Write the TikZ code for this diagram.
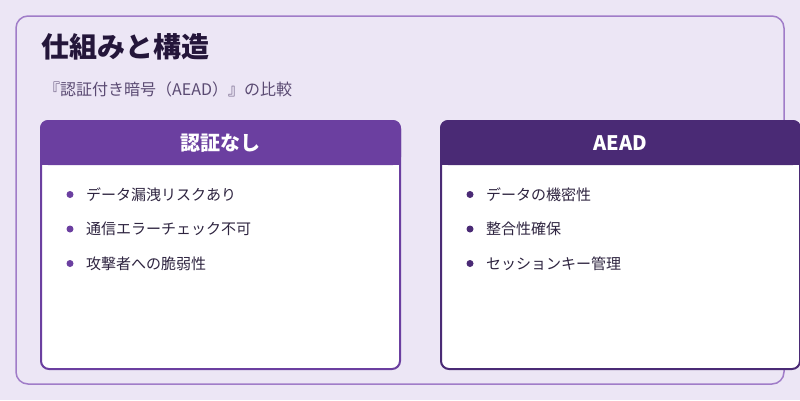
\documentclass[tikz,border=0pt]{standalone}
\usepackage{fontspec}
\setmainfont{Noto Sans CJK JP}
\definecolor{bg}{HTML}{ECE6F5}
\definecolor{frame}{HTML}{A07CC8}
\definecolor{hl}{HTML}{6B3FA0}
\definecolor{hr}{HTML}{4A2A75}
\definecolor{ttl}{HTML}{24163A}
\definecolor{sub}{HTML}{5A4A72}
\definecolor{txt}{HTML}{2E2440}
\tikzset{
 card/.style={draw=#1,line width=2pt,fill=white,rounded corners=8pt},
 item/.style={anchor=west,font=\fontsize{15}{18}\selectfont,text=txt,inner sep=0},
 dot/.style={circle,fill=#1,minimum size=7pt,inner sep=0},
 head/.style={text=white,font=\fontsize{20}{24}\selectfont\bfseries}
}
\begin{document}
\begin{tikzpicture}[x=1pt,y=-1pt]
\fill[bg] (0,0) rectangle (800,400);
\useasboundingbox (0,0) rectangle (800,400);
\draw[frame,line width=1.5pt,rounded corners=12pt] (16,16) rectangle (784,384);
\node[anchor=west,inner sep=0,text=ttl,font=\fontsize{28}{32}\selectfont\bfseries] (title) at (41,47) {仕組みと構造};
\node[anchor=west,inner sep=0,text=sub,font=\fontsize{16}{20}\selectfont] (subtitle) at (44,89) {『認証付き暗号（AEAD）』の比較};
% left card
\draw[card=hl] (41,121) rectangle (400,369);
\fill[hl,rounded corners=8pt] (40,120) rectangle (401,165);
\fill[hl] (40,150) rectangle (401,165);
\node[head] (lh) at (220.5,143) {認証なし};
% right card
\draw[card=hr] (441,121) rectangle (800,369);
\fill[hr,rounded corners=8pt] (440,120) rectangle (801,165);
\fill[hr] (440,150) rectangle (801,165);
\node[head] (rh) at (620.5,143) {AEAD};
\foreach \t [count=\i] in {データ漏洩リスクあり,通信エラーチェック不可,攻撃者への脆弱性}{
  \node[dot=hl] (ld\i) at (70,{160+\i*34.5}) {};
  \node[item] (lt\i) at (86,{160+\i*34.5}) {\t};
}
\foreach \t [count=\i] in {データの機密性,整合性確保,セッションキー管理}{
  \node[dot=hr] (rd\i) at (470,{160+\i*34.5}) {};
  \node[item] (rt\i) at (486,{160+\i*34.5}) {\t};
}
\end{tikzpicture}
\end{document}
